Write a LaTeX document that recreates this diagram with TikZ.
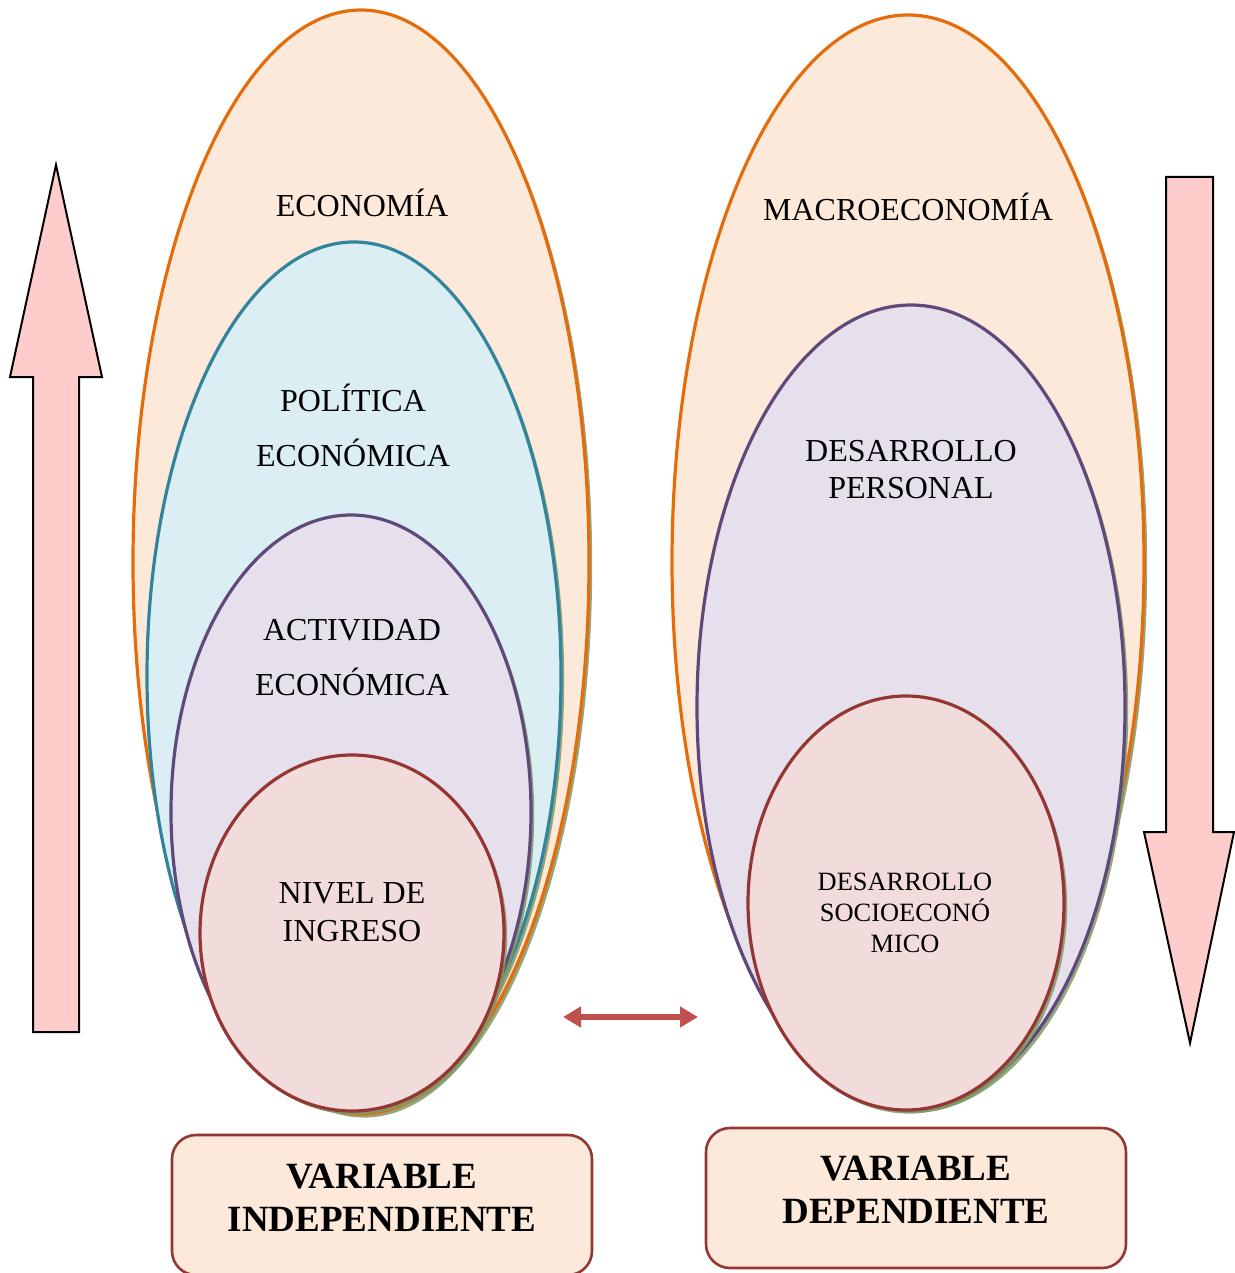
\documentclass[tikz,border=0pt]{standalone}
\usepackage{fontspec}
\setmainfont{Liberation Serif}
\usetikzlibrary{shapes.geometric,shadows,arrows.meta}

\definecolor{peach}{HTML}{FDE9D9}
\definecolor{orangeline}{HTML}{E46C0A}
\definecolor{tealline}{HTML}{31849B}
\definecolor{tealfill}{HTML}{DAEEF3}
\definecolor{purpleline}{HTML}{5F497A}
\definecolor{purplefill}{HTML}{E5E0EC}
\definecolor{redline}{HTML}{943634}
\definecolor{redfill}{HTML}{F2DCDB}
\definecolor{pinkarrow}{HTML}{FFCCCC}
\definecolor{linkred}{HTML}{C0504D}
\definecolor{shadowgreen}{HTML}{7F9866}

\tikzset{
  ring/.style={ellipse, draw, line width=1.6pt, inner sep=0pt,
    drop shadow={shadow xshift=1.6pt, shadow yshift=-1.8pt, fill=shadowgreen, opacity=0.85}},
  lbl/.style={align=center, inner sep=0pt, font=\fontsize{16}{27.5}\selectfont},
  blockarrow/.style={draw=black, fill=pinkarrow, line width=1pt, line join=miter},
  varbox/.style={rectangle, rounded corners=12pt, draw=redline, fill=peach, line width=1.3pt,
    minimum width=210pt, minimum height=70pt, inner sep=0pt},
  varlbl/.style={align=center, inner sep=0pt, font=\fontsize{18.5}{21.5}\selectfont\bfseries},
  link/.style={{Triangle[length=9pt,width=10pt]}-{Triangle[length=9pt,width=10pt]}, line width=2.8pt, draw=linkred}
}

\begin{document}
\begin{tikzpicture}[x=0.5pt, y=-0.5pt]
  \useasboundingbox (0,0) rectangle (1235,1273);

  % Block arrows at the sides
  \draw[blockarrow] (33,1032) -- (33,377) -- (10,377) -- (56,165) -- (102,377) -- (79,377) -- (79,1032) -- cycle;
  \draw[blockarrow] (1166,177) -- (1213,177) -- (1213,832) -- (1234,832) -- (1190,1043) -- (1144,832) -- (1166,832) -- cycle;

  % Left ellipses (independent variable)
  \node[ring, draw=orangeline, fill=peach, minimum width=228pt, minimum height=552pt] (eco) at (361,562) {};
  \node[ring, draw=tealline, fill=tealfill, minimum width=207pt, minimum height=434pt] (pol) at (354,676) {};
  \node[ring, draw=purpleline, fill=purplefill, minimum width=180pt, minimum height=297pt] (act) at (351,812) {};
  \node[ring, draw=redline, fill=redfill, minimum width=152pt, minimum height=178pt] (niv) at (352,933) {};

  % Right ellipses (dependent variable)
  \node[ring, draw=orangeline, fill=peach, minimum width=236pt, minimum height=547pt] (mac) at (908,562) {};
  \node[ring, draw=purpleline, fill=purplefill, minimum width=214pt, minimum height=402pt] (per) at (911,707) {};
  \node[ring, draw=redline, fill=redfill, minimum width=158pt, minimum height=207pt] (soc) at (906,903) {};

  % Labels
  \node[lbl] (ecoT) at (362,203) {ECONOMÍA};
  \node[lbl] (polT) at (353,425) {POLÍTICA\\ECONÓMICA};
  \node[lbl] (actT) at (352,658) {ACTIVIDAD\\ECONÓMICA};
  \node[lbl, font=\fontsize{16}{19}\selectfont] (nivT) at (352,912) {NIVEL DE\\INGRESO};
  \node[lbl] (macT) at (908,207) {MACROECONOMÍA};
  \node[lbl, font=\fontsize{16}{18.5}\selectfont] (perT) at (911,470) {DESARROLLO\\PERSONAL};
  \node[lbl, font=\fontsize{13.2}{15.5}\selectfont] (socT) at (905,913) {DESARROLLO\\SOCIOECONÓ\\MICO};

  % Link between both sides
  \coordinate (linkL) at (563,1017);
  \coordinate (linkR) at (698,1017);
  \draw[link] (linkL) -- (linkR);

  % Variable boxes
  \node[varbox] (indep) at (382,1205) {};
  \node[varlbl] (indepT) at (382,1198) {VARIABLE\\INDEPENDIENTE};
  \node[varbox] (dep) at (916,1198) {};
  \node[varlbl] (depT) at (916,1190) {VARIABLE\\DEPENDIENTE};
\end{tikzpicture}
\end{document}
